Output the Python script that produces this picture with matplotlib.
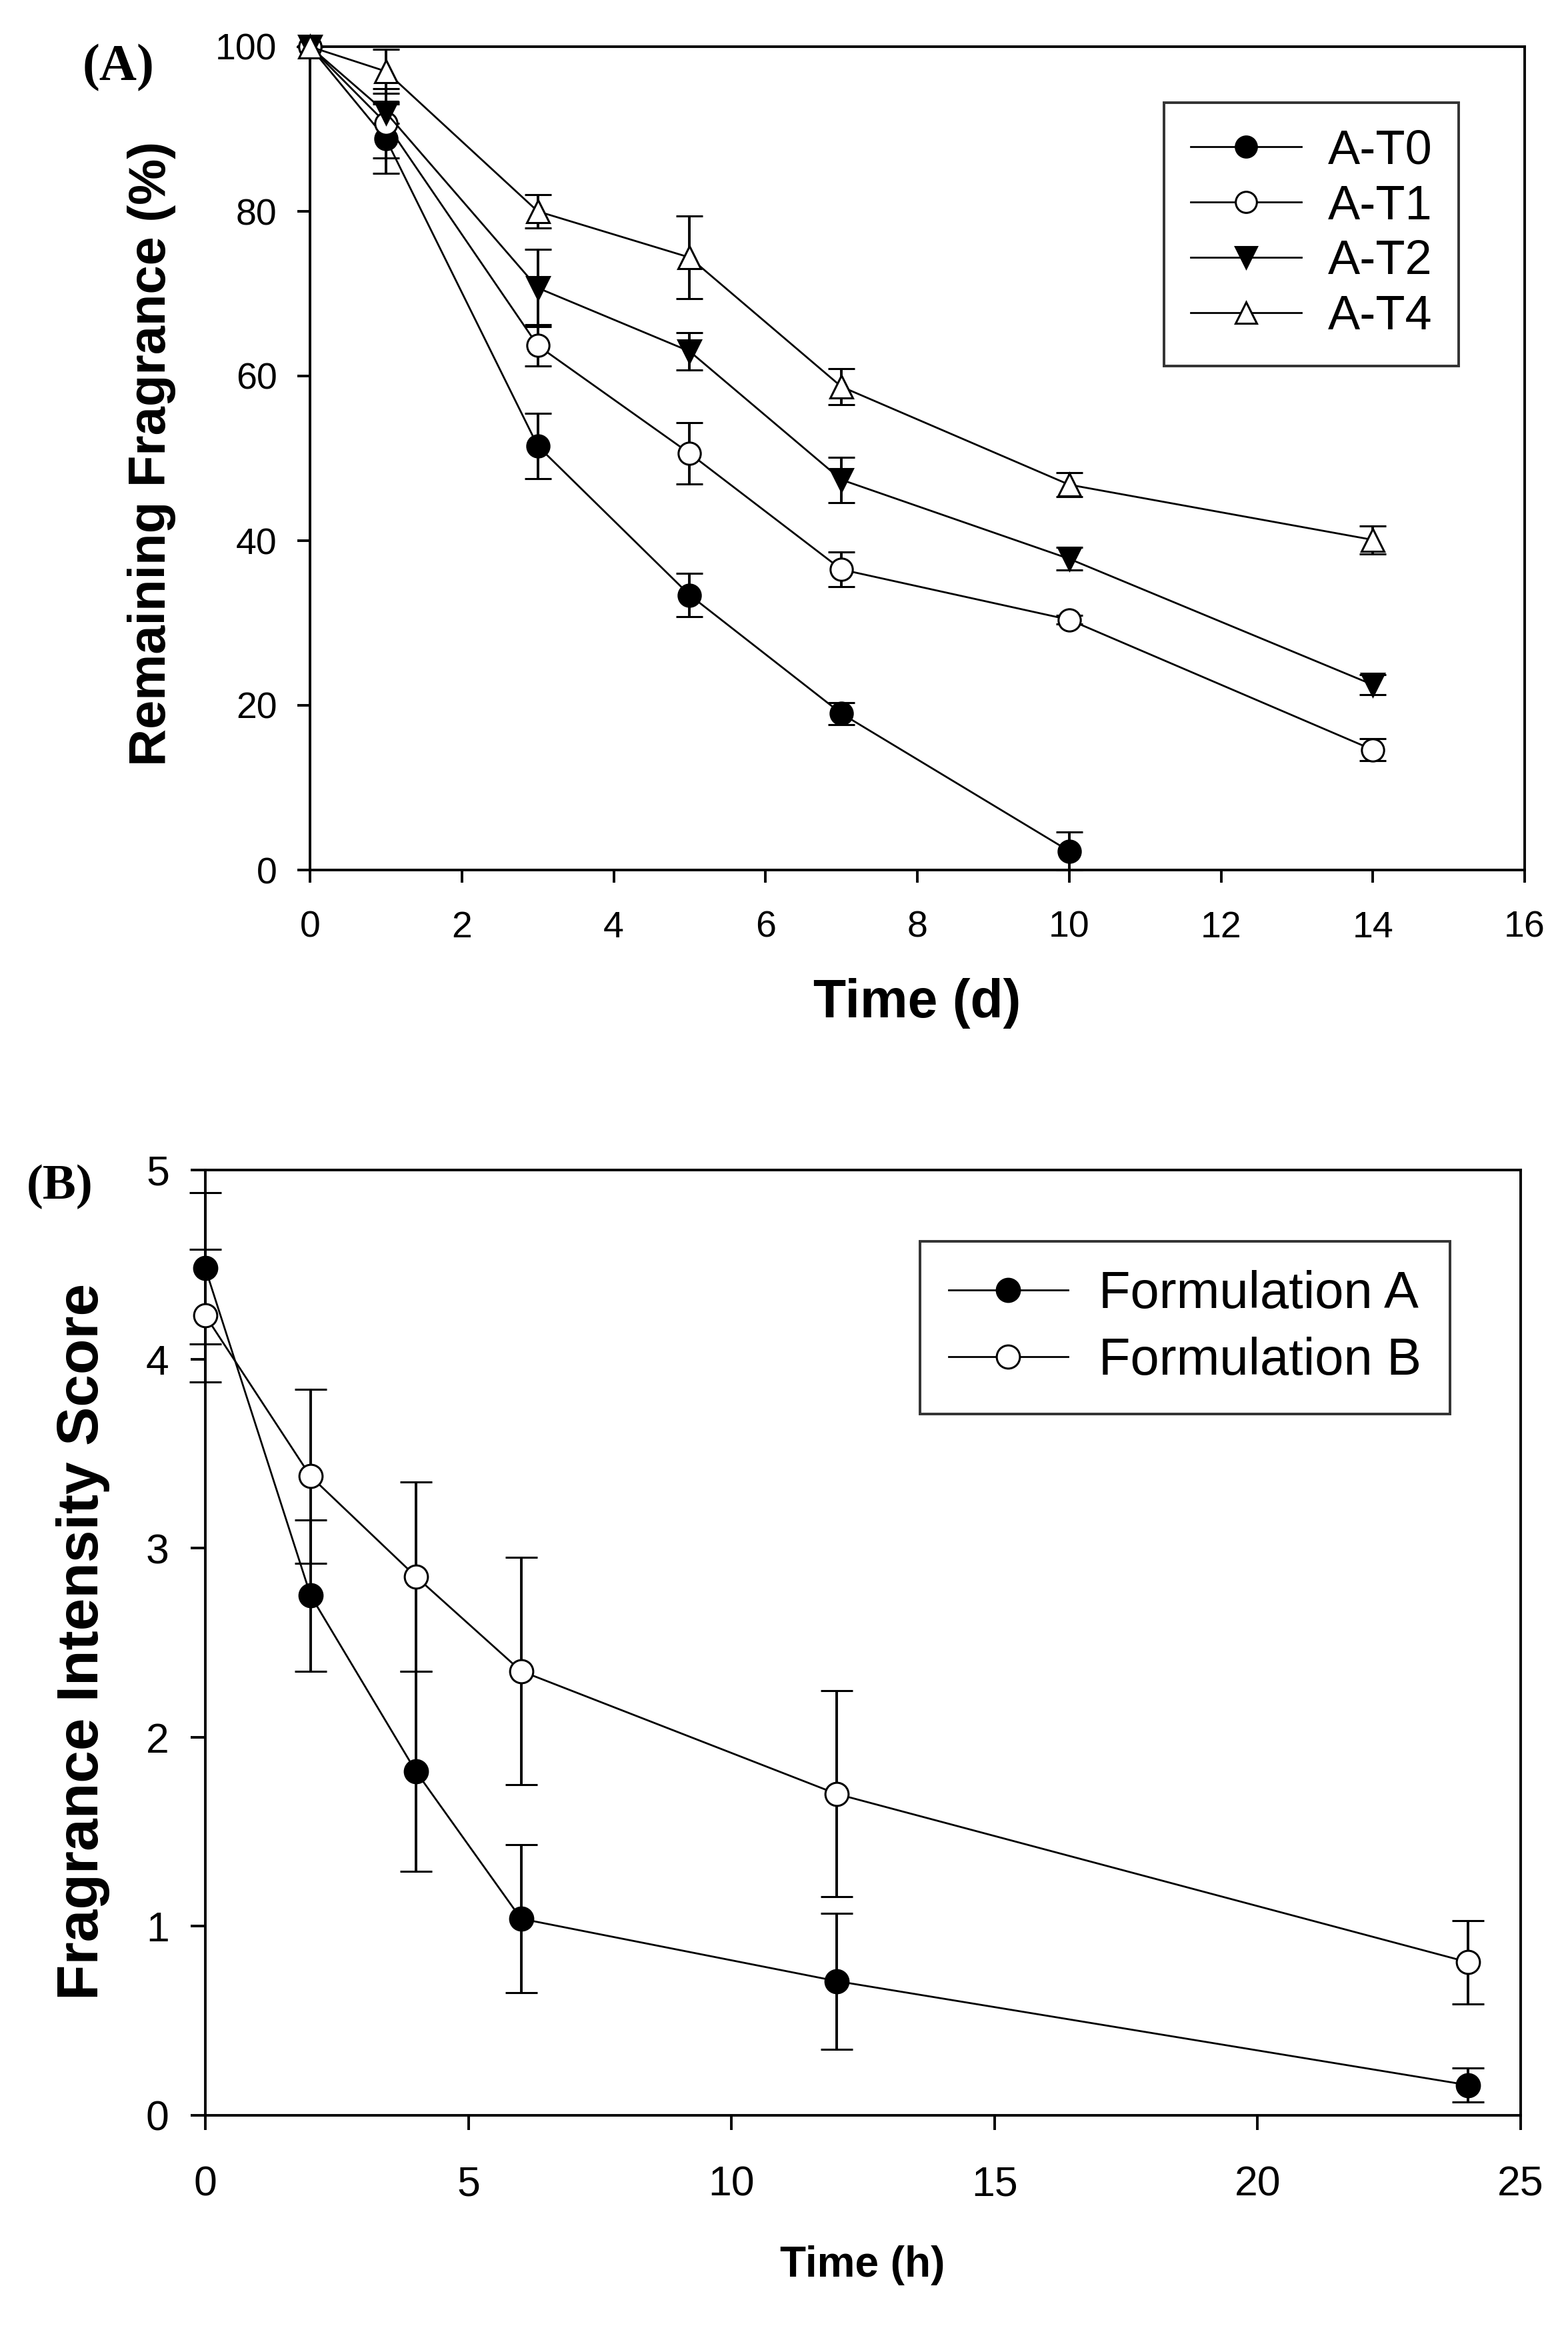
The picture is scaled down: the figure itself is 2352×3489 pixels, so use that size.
import matplotlib
matplotlib.use('Agg')
import matplotlib.pyplot as plt

# ---------------- Panel A data ----------------
days_t0 = [0, 1, 3, 5, 7, 10]
days = [0, 1, 3, 5, 7, 10, 14]
t0_vals = [100, 88.8, 51.5, 33.4, 19.0, 2.3]
t0_err = [0, 4.2, 3.95, 2.65, 1.35, 2.3]
t1_vals = [100, 90.7, 63.7, 50.6, 36.5, 30.4, 14.6]
t1_err = [0, 4.2, 2.5, 3.75, 2.1, 0.5, 1.35]
t2_vals = [100, 92.0, 70.7, 63.0, 47.4, 37.8, 22.5]
t2_err = [0, 1.3, 4.7, 2.3, 2.75, 1.4, 1.2]
t4_vals = [100, 97.0, 80.0, 74.4, 58.7, 46.8, 40.1]
t4_err = [0, 2.7, 2.0, 5.0, 2.2, 1.45, 1.7]
labels_a = ['A-T0', 'A-T1', 'A-T2', 'A-T4']

# ---------------- Panel B data ----------------
hours = [0, 2, 4, 6, 12, 24]
form_a = [4.48, 2.75, 1.82, 1.04, 0.71, 0.16]
form_a_err = [0.40, 0.40, 0.53, 0.39, 0.36, 0.09]
form_b = [4.23, 3.38, 2.85, 2.35, 1.70, 0.81]
form_b_err = [0.35, 0.46, 0.50, 0.60, 0.545, 0.22]
labels_b = ['Formulation A', 'Formulation B']

W, H = 2352, 3489
DPI = 200
fig = plt.figure(figsize=(W / DPI, H / DPI), dpi=DPI)
SANS = 'Liberation Sans'
SERIF = 'Liberation Serif'
plt.rcParams['font.family'] = SANS


def fx(px):
    return px / W


def fy(py):
    return 1 - py / H


def axes_rect(l, t, r, b):
    return [fx(l), fy(b), fx(r) - fx(l), fy(t) - fy(b)]


def style_axes(ax, tick_len, pad_x, pad_y, fs):
    for s in ax.spines.values():
        s.set_linewidth(1.4)
    ax.tick_params(direction='out', length=tick_len, width=1.4, labelsize=fs)
    ax.tick_params(axis='x', pad=pad_x)
    ax.tick_params(axis='y', pad=pad_y)
    ax.tick_params(top=False, right=False)


# ---------------- Panel A ----------------
axA = fig.add_axes(axes_rect(465, 70, 2287, 1305))
common = dict(color='black', lw=1.0, elinewidth=1.4, capsize=7.2, capthick=1.4,
              markersize=12, markeredgewidth=1.1, markeredgecolor='black', clip_on=False)
series_a = [
    (days_t0, t0_vals, t0_err, 'o', 'black'),
    (days, t1_vals, t1_err, 'o', 'white'),
    (days, t2_vals, t2_err, 'v', 'black'),
    (days, t4_vals, t4_err, '^', 'white'),
]
handles_a = []
for (x, y, e, m, fc), lab in zip(series_a, labels_a):
    c = axA.errorbar(x, y, yerr=e, marker=m, markerfacecolor=fc, label=lab, zorder=3, **common)
    handles_a.append(c.lines[0])
axA.set_xlim(0, 16)
axA.set_ylim(0, 100)
axA.set_xticks(range(0, 17, 2))
axA.set_yticks(range(0, 101, 20))
style_axes(axA, 6.8, 15, 11, 20)
legA = axA.legend(handles=handles_a, labels=labels_a, loc='upper left',
                  bbox_to_anchor=(0.703, 0.932), borderaxespad=0, fontsize=26,
                  frameon=True, fancybox=False, edgecolor='black', handlelength=2.3,
                  handletextpad=0.55, labelspacing=0.22, borderpad=0.55, markerscale=0.95)
legA.get_frame().set_linewidth(1.4)

fig.text(fx(228), fy(680), 'Remaining Fragrance (%)', rotation=90, ha='center', va='center',
         fontsize=28, fontweight='bold', family=SANS)
fig.text(fx(1376), fy(1505), 'Time (d)', ha='center', va='center', fontsize=29,
         fontweight='bold', family=SANS)
fig.text(fx(178), fy(102), '(A)', ha='center', va='center', fontsize=28,
         fontweight='bold', family=SERIF)

# ---------------- Panel B ----------------
axB = fig.add_axes(axes_rect(308, 1755, 2281, 3173))
commonB = dict(color='black', lw=1.0, elinewidth=1.4, capsize=8.5, capthick=1.4,
               markersize=12.5, markeredgewidth=1.1, markeredgecolor='black', clip_on=False)
cA = axB.errorbar(hours, form_a, yerr=form_a_err, marker='o', markerfacecolor='black', zorder=3, **commonB)
cB = axB.errorbar(hours, form_b, yerr=form_b_err, marker='o', markerfacecolor='white', zorder=3, **commonB)
axB.set_xlim(0, 25)
axB.set_ylim(0, 5)
axB.set_xticks(range(0, 26, 5))
axB.set_yticks(range(0, 6))
style_axes(axB, 8, 19, 11.5, 22.5)
legB = axB.legend(handles=[cA.lines[0], cB.lines[0]], labels=labels_b, loc='upper left',
                  bbox_to_anchor=(0.5433, 0.9245), borderaxespad=0, fontsize=28,
                  frameon=True, fancybox=False, edgecolor='black', handlelength=2.3,
                  handletextpad=0.6, labelspacing=0.35, borderpad=0.55)
legB.get_frame().set_linewidth(1.4)

fig.text(fx(125), fy(2462), 'Fragrance Intensity Score', rotation=90, ha='center', va='center',
         fontsize=31.5, fontweight='bold', family=SANS)
fig.text(fx(1294), fy(3398), 'Time (h)', ha='center', va='center', fontsize=23,
         fontweight='bold', family=SANS)
fig.text(fx(90), fy(1780), '(B)', ha='center', va='center', fontsize=27,
         fontweight='bold', family=SERIF)

fig.savefig('out.png', dpi=DPI, facecolor='white')
